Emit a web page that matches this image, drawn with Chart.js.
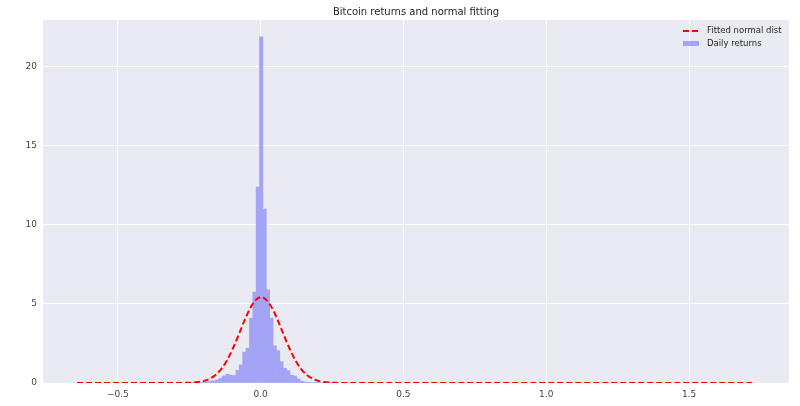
<!DOCTYPE html>
<html>
<head>
<meta charset="utf-8">
<script src="https://cdn.jsdelivr.net/npm/chart.js@4/dist/chart.umd.min.js"></script>
<style>
    html, body { margin: 0; padding: 0; background: #fff; }
</style>
</head>
<body>
<canvas id="returnsChart" width="800" height="406"></canvas>
<script>
// histogram bins (centres) and densities
const binCenters = [-0.2465, -0.2347, -0.2229, -0.2110, -0.1992, -0.1873, -0.1755, -0.1637, -0.1518, -0.1400,
    -0.1282, -0.1163, -0.1045, -0.0927, -0.0808, -0.0690, -0.0571, -0.0453, -0.0335, -0.0216,
    -0.0098, 0.0020, 0.0139, 0.0257, 0.0375, 0.0494, 0.0612, 0.0730, 0.0849, 0.0967,
    0.1086, 0.1204, 0.1322, 0.1441, 0.1559, 0.1677, 0.1796, 0.1914, 0.2032, 0.2151,
    0.2269, 0.2388, 0.2506];
const binHeights = [0.01, 0.02, 0.02, 0.03, 0.05, 0.08, 0.13, 0.13, 0.20, 0.30,
    0.45, 0.55, 0.50, 0.47, 0.80, 1.15, 1.95, 2.20, 4.10, 5.75,
    12.40, 21.90, 11.00, 5.90, 4.10, 2.35, 2.05, 1.35, 0.93, 0.78,
    0.50, 0.44, 0.25, 0.12, 0.06, 0.05, 0.03, 0.03, 0.02, 0.02,
    0.01, 0.02, 0.01];

// fitted normal curve
const fitX = [-0.643, -0.35, -0.278, -0.258, -0.238, -0.218, -0.198, -0.178, -0.158, -0.138,
    -0.118, -0.098, -0.078, -0.058, -0.038, -0.018, 0.002, 0.022, 0.042, 0.062,
    0.082, 0.102, 0.122, 0.142, 0.162, 0.182, 0.202, 0.222, 0.242, 0.262,
    0.282, 0.35, 1.724];
const fitY = [0, 0, 0.004, 0.010, 0.026, 0.062, 0.134, 0.271, 0.508, 0.885,
    1.43, 2.15, 3.00, 3.89, 4.68, 5.23, 5.43, 5.23, 4.68, 3.89,
    3.00, 2.15, 1.43, 0.885, 0.508, 0.271, 0.134, 0.062, 0.026, 0.010,
    0.004, 0, 0];

const xTicks = [-0.5, 0.0, 0.5, 1.0, 1.5];
const yTicks = [0, 5, 10, 15, 20];

// blue at 30% alpha over the grey plot background
const barColor = '#a4a4f6';

const plotBg = {
    id: 'plotBg',
    beforeDraw(chart) {
        const { ctx, chartArea: a } = chart;
        ctx.save();
        ctx.fillStyle = '#eaeaf2';
        ctx.fillRect(a.left, a.top, a.right - a.left, a.bottom - a.top);
        ctx.restore();
    }
};

// matplotlib style legend inside the plot, top right
const innerLegend = {
    id: 'innerLegend',
    afterDraw(chart) {
        const { ctx, chartArea: a } = chart;
        const x0 = a.right - 106, y0 = a.top + 11;
        ctx.save();
        ctx.font = '8.5px "DejaVu Sans"';
        ctx.fillStyle = '#262626';
        ctx.textBaseline = 'middle';
        // line entry
        ctx.strokeStyle = 'red';
        ctx.lineWidth = 2;
        ctx.setLineDash([6, 3]);
        ctx.beginPath();
        ctx.moveTo(x0, y0);
        ctx.lineTo(x0 + 16, y0);
        ctx.stroke();
        ctx.setLineDash([]);
        ctx.fillText(chart.data.datasets[0].label, x0 + 24, y0);
        // bar entry
        ctx.fillStyle = barColor;
        ctx.fillRect(x0, y0 + 10, 16, 5);
        ctx.fillStyle = '#262626';
        ctx.fillText(chart.data.datasets[1].label, x0 + 24, y0 + 13);
        ctx.restore();
    }
};

const tickFont = { family: 'DejaVu Sans', size: 9 };

new Chart(document.getElementById('returnsChart').getContext('2d'), {
    type: 'bar',
    data: {
        datasets: [
            {
                type: 'line',
                label: 'Fitted normal dist',
                data: fitX.map((x, i) => ({ x: x, y: fitY[i] })),
                borderColor: 'red',
                borderWidth: 2,
                borderDash: [6, 3],
                pointRadius: 0,
                cubicInterpolationMode: 'monotone',
                fill: false,
                order: 0
            },
            {
                label: 'Daily returns',
                data: binCenters.map((x, i) => ({ x: x, y: binHeights[i] })),
                backgroundColor: barColor,
                borderWidth: 0,
                barThickness: 'flex',
                barPercentage: 1.0,
                categoryPercentage: 1.0,
                order: 1
            }
        ]
    },
    options: {
        responsive: false,
        animation: false,
        layout: { padding: { left: 0, right: 11, top: 0, bottom: 0 } },
        scales: {
            x: {
                type: 'linear',
                min: -0.762,
                max: 1.85,
                offset: false,
                border: { display: false },
                grid: { color: '#ffffff', lineWidth: 1, drawTicks: false, offset: false },
                afterBuildTicks: s => { s.ticks = xTicks.map(v => ({ value: v })); },
                afterFit: s => { s.height = 23; },
                ticks: {
                    padding: 6,
                    color: '#444',
                    font: tickFont,
                    maxRotation: 0,
                    callback: v => (v < 0 ? '\u2212' : '') + Math.abs(v).toFixed(1)
                }
            },
            y: {
                min: 0,
                max: 22.97,
                border: { display: false },
                grid: { color: '#ffffff', lineWidth: 1, drawTicks: false },
                afterBuildTicks: s => { s.ticks = yTicks.map(v => ({ value: v })); },
                afterFit: s => { s.width = 43; },
                ticks: {
                    padding: 6,
                    color: '#444',
                    font: tickFont,
                    callback: v => String(v)
                }
            }
        },
        plugins: {
            legend: { display: false },
            tooltip: { enabled: false },
            title: {
                display: true,
                fullSize: false,
                text: 'Bitcoin returns and normal fitting',
                color: '#262626',
                font: { family: 'DejaVu Sans', size: 10, weight: 'normal' },
                padding: { top: 6, bottom: 2 }
            }
        }
    },
    plugins: [plotBg, innerLegend]
});
</script>
</body>
</html>
